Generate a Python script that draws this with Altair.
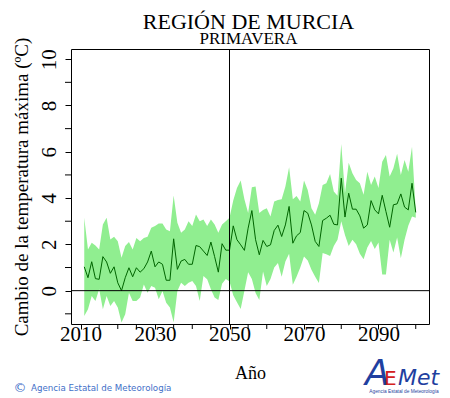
import altair as alt
import pandas as pd

years = list(range(2011, 2101))

mean = [1.03, 0.56, 1.25, 0.52, 0.49, 1.47, 1.24, 0.75, 1.03, 0.34,
        0.00, 0.56, 0.99, 0.60, 0.99, 0.80, 0.95, 1.24, 1.71, 1.03,
        1.24, 1.14, 0.45, 0.45, 2.24, 0.92, 1.28, 1.35, 1.14, 1.14,
        1.95, 1.90, 1.71, 1.52, 2.10, 1.47, 0.80, 2.03, 1.75, 1.75,
        2.80, 2.20, 1.98, 1.74, 2.70, 3.46, 2.20, 1.55, 2.17, 1.91,
        1.98, 2.60, 2.83, 2.34, 2.84, 3.64, 2.05, 2.37, 2.51, 3.46,
        3.35, 2.84, 2.13, 1.91, 3.03, 3.13, 3.26, 2.87, 2.84, 4.86,
        3.18, 4.21, 3.52, 3.52, 3.23, 2.70, 2.84, 3.89, 3.49, 3.32,
        4.12, 3.42, 2.74, 3.71, 3.75, 4.18, 3.61, 3.49, 4.64, 3.38]

upper = [3.15, 1.78, 2.07, 1.95, 1.78, 2.86, 3.15, 2.21, 2.33, 2.14,
         1.42, 1.93, 2.10, 1.78, 2.28, 2.14, 2.28, 2.33, 2.72, 2.79,
         2.90, 2.90, 2.64, 2.57, 4.11, 2.93, 2.50, 2.64, 3.00, 2.79,
         3.29, 3.00, 3.07, 2.79, 3.07, 2.86, 2.50, 2.86, 3.00, 3.15,
         3.89, 4.43, 4.76, 3.95, 3.35, 4.47, 4.50, 3.35, 3.49, 3.56,
         3.20, 3.85, 3.92, 3.95, 4.50, 5.33, 3.95, 4.09, 3.85, 4.76,
         4.35, 3.56, 3.28, 3.78, 4.57, 4.64, 5.04, 4.28, 4.10, 6.34,
         4.21, 5.53, 5.07, 4.78, 4.64, 4.14, 5.14, 4.57, 4.93, 4.43,
         5.57, 5.86, 4.93, 5.29, 5.91, 5.00, 5.65, 5.14, 6.22, 3.45]

lower = [-1.09, -0.80, -0.23, -0.45, 0.06, -0.80, -0.23, -0.66, -0.45, -0.73,
         -1.38, -1.02, -0.09, -0.45, -0.45, -0.30, 0.27, -0.09, 0.20, 0.13,
         -0.37, -0.01, -0.52, -0.73, -1.38, -0.01, 0.34, 0.20, 0.34, 0.42,
         0.20, -0.45, 0.63, 0.49, 0.06, -0.30, -0.40, 0.30, 0.50, 0.40,
         -0.20, -0.50, -0.79, 0.00, 0.80, 0.50, -0.10, -0.40, 0.83, 0.20,
         0.50, 1.00, 1.20, 0.60, 1.26, 1.60, 0.26, 0.60, 1.00, 1.48,
         1.30, 0.90, 0.60, 0.33, 1.63, 1.57, 1.50, 1.93, 2.20, 3.00,
         2.40, 1.93, 2.20, 2.00, 1.60, 1.36, 1.86, 2.15, 1.80, 2.08,
         0.70, 0.70, 2.20, 1.65, 2.30, 1.40, 2.20, 2.80, 3.20, 3.15]

x_label_ticks = [2010, 2030, 2050, 2070, 2090]
x_minor_ticks = [2015, 2020, 2025, 2035, 2040, 2045, 2055, 2060, 2065, 2075, 2080, 2085, 2095, 2100]
y_label_ticks = [0, 2, 4, 6, 8, 10]
y_minor_ticks = [-1, 1, 3, 5, 7, 9]

df = pd.DataFrame({"year": years, "mean": mean, "lower": lower, "upper": upper})

serif = "Liberation Serif"
xscale = alt.Scale(domain=[2007.44, 2103.56], nice=False, zero=False)
yscale = alt.Scale(domain=[-1.44, 10.44], nice=False, zero=False)

xaxis = alt.Axis(
    values=x_label_ticks, format="d",
    title="Año", grid=False, domain=False,
    tickSize=5, tickColor="black", tickWidth=1,
    labelFont=serif, labelFontSize=21, labelColor="black",
    labelBaseline="alphabetic", labelPadding=11, labelAlign="center",
    labelFlush=False, labelOverlap=False,
    titleFont=serif, titleFontSize=18, titleFontWeight="normal", titleColor="black",
    titleBaseline="alphabetic", titleY=54,
)
yaxis = alt.Axis(
    values=y_label_ticks, format="d",
    title="Cambio de la temperatura máxima (ºC)", grid=False, domain=False,
    tickSize=6, tickColor="black", tickWidth=1,
    labelFont=serif, labelFontSize=21, labelColor="black",
    labelAngle=270, labelAlign="center", labelBaseline="alphabetic", labelPadding=10,
    labelFlush=False, labelOverlap=False,
    titleFont=serif, titleFontSize=19, titleFontWeight="normal", titleColor="black",
    titleAngle=270, titleBaseline="alphabetic", titleX=-44,
)

band = alt.Chart(df).mark_area(color="#90EE90", opacity=1).encode(
    x=alt.X("year:Q", scale=xscale, axis=xaxis),
    y=alt.Y("lower:Q", scale=yscale, axis=yaxis),
    y2="upper:Q",
)
line = alt.Chart(df).mark_line(color="#006400", strokeWidth=1).encode(
    x="year:Q", y="mean:Q"
)
vrule = alt.Chart(pd.DataFrame({"x": [2050]})).mark_rule(color="black", strokeWidth=1).encode(x="x:Q")
hrule = alt.Chart(pd.DataFrame({"y": [0]})).mark_rule(color="black", strokeWidth=1).encode(y="y:Q")

xminor = alt.Chart(pd.DataFrame({"x": x_minor_ticks})).mark_rule(color="black", strokeWidth=1).encode(
    x="x:Q", y=alt.value(275), y2=alt.value(280)
)
yminor = alt.Chart(pd.DataFrame({"y": y_minor_ticks})).mark_rule(color="black", strokeWidth=1).encode(
    y="y:Q", x=alt.value(-6), x2=alt.value(0)
)


def txt(text, x, y, size, color="black", font=serif, style="normal", weight="normal", align="center"):
    return alt.Chart(pd.DataFrame({"t": [text]})).mark_text(
        font=font, fontSize=size, color=color, fontStyle=style, fontWeight=weight,
        align=align, baseline="alphabetic",
    ).encode(text="t:N", x=alt.value(x), y=alt.value(y))


title = txt("REGIÓN DE MURCIA", 177.5, -20, 22)
subtitle = txt("PRIMAVERA", 177.5, -5, 17)
copy_sym = txt("©", -51, 343, 13, color="#3f6fc8", font="DejaVu Sans")
footer = txt("Agencia Estatal de Meteorología", -40, 342, 8.7, color="#3f6fc8", font="DejaVu Sans", align="left")
logo_a = txt("A", 294, 336, 36, color="#1f3fa0", style="italic", font="DejaVu Sans", align="left")
logo_e = txt("E", 313, 336, 20, color="#d42020", font="DejaVu Sans", align="left")
logo_met = txt("Met", 327, 336, 22, color="#1f3fa0", style="italic", font="DejaVu Sans", align="left")
logo_small = txt("Agencia Estatal de Meteorología", 333, 344, 4.8, color="#1f3fa0", font="Liberation Sans")

chart = alt.layer(
    band, line, vrule, hrule, xminor, yminor, title, subtitle, copy_sym, footer,
    logo_a, logo_e, logo_met, logo_small,
).properties(
    width=358, height=275,
    background="white",
    autosize=alt.AutoSizeParams(type="none"),
    padding={"left": 63, "top": 41, "right": 13, "bottom": 74},
).configure_view(stroke="black", strokeWidth=1)

chart.save("out.html", embed_options={"renderer": "svg", "actions": False})
